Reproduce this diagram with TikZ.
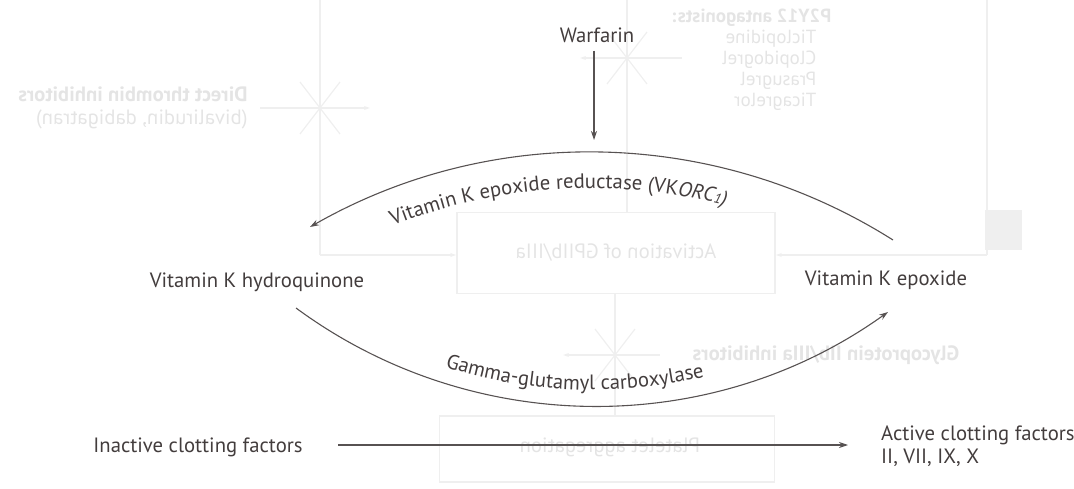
\documentclass[tikz,border=0pt]{standalone}
\usepackage{fontspec}
\setmainfont{PT Sans}
\usetikzlibrary{arrows.meta,decorations.text}
\definecolor{ink}{HTML}{433D3D}
\definecolor{wire}{HTML}{575252}
\definecolor{ghost}{HTML}{EFEFEF}
\definecolor{ghosttext}{HTML}{E4E4E4}
\newcommand\lblfont{\fontsize{20.7}{23}\selectfont}
\newcommand\subfont{\fontsize{14}{16}\selectfont}
\begin{document}
\begin{tikzpicture}[x=1pt,y=1pt,
  lbl/.style={text=ink, font=\lblfont, inner sep=0pt},
  flow/.style={draw=wire, line width=1.1pt, -{Stealth[length=9pt,width=6pt]}},
  ghostline/.style={draw=ghost, line width=1.2pt},
  ghostarrow/.style={ghostline, -{Stealth[length=6pt,width=4pt]}},
  ghostbox/.style={draw=ghost, line width=1.6pt, inner sep=0pt},
  ghostlbl/.style={text=ghosttext, font=\lblfont, xscale=-1, transform shape, inner sep=0pt}
]
\useasboundingbox (0,0) rectangle (1074,488);

% faint pathway printed on the reverse of the sheet (shows through mirrored)
\node[ghostbox, minimum width=318pt, minimum height=81pt] (gact) at (616,235) {};
\node[ghostlbl] (gacttxt) at (616,235) {Activation of GPIIb/IIIa};
\node[ghostbox, minimum width=335pt, minimum height=66pt] (gplt) at (607,39) {};
\node[ghostlbl] (gplttxt) at (610,41) {Platelet aggregation};
\coordinate (gtopl) at (320,488);
\coordinate (gcorner) at (320,233);
\draw[ghostline] (gtopl) -- (gcorner);
\draw[ghostarrow] (gcorner) -- (gact.west |- gcorner);
\coordinate (gtopr) at (987,488);
\coordinate (gcornerr) at (987,233);
\draw[ghostline] (gtopr) -- (gcornerr);
\draw[ghostarrow] (gcornerr) -- (gact.east |- gcornerr);
\fill[ghost] (985,238) rectangle (1022,278);
\coordinate (gtopm) at (627,488);
\draw[ghostline] (gtopm) -- (gact.north -| gtopm);
\draw[ghostline] (gact.south -| 615,0) -- (gplt.north -| 615,0);
% inhibition stars
\coordinate (gs1) at (320,380);
\coordinate (gs2) at (627,430);
\coordinate (gs3) at (615,133);
\draw[ghostarrow] ([xshift=-60pt]gs1) -- ([xshift=50pt]gs1);
\draw[ghostarrow] ([xshift=55pt]gs2) -- ([xshift=-47pt]gs2);
\draw[ghostarrow] ([xshift=45pt]gs3) -- ([xshift=-52pt]gs3);
\foreach \s in {gs1,gs2,gs3}{
  \draw[ghostline] ([shift={(-20pt,-26pt)}]\s) -- ([shift={(20pt,26pt)}]\s);
  \draw[ghostline] ([shift={(-20pt,26pt)}]\s) -- ([shift={(20pt,-26pt)}]\s);
}
\node[ghostlbl, align=left] (gdti) at (133,380)
  {\textbf{Direct thrombin inhibitors}\\(bivalirudin, dabigatran)};
\node[ghostlbl, align=left, font=\fontsize{19}{21}\selectfont] (gp2y) at (752,428)
  {\textbf{P2Y12 antagonists:}\\\hspace*{15pt}Ticlopidine\\\hspace*{15pt}Clopidogrel\\\hspace*{15pt}Prasugrel\\\hspace*{15pt}Ticagrelor};
\node[ghostlbl] (ggp) at (826,133) {\textbf{Glycoprotein IIb/IIIa inhibitors}};

% vitamin K cycle
\node[lbl] (warf) at (597,453) {Warfarin};
\node[lbl] (hydro) at (257,206) {Vitamin K hydroquinone};
\node[lbl] (epox) at (886,208) {Vitamin K epoxide};
\node[lbl] (inact) at (198,41) {Inactive clotting factors};
\node[lbl, anchor=west, align=left] (act) at (881,42) {Active clotting factors\\II, VII, IX, X};

\coordinate (wtip) at (594,348);
\draw[flow] (warf.south -| wtip) ++(0,-8) -- (wtip);

\coordinate (ta) at (893,248);
\coordinate (tb) at (310,261);
\draw[flow] (ta) to[bend right=31, looseness=0.92] (tb);

\coordinate (ba) at (296,180);
\coordinate (bb) at (888,176);
\draw[flow] (ba) to[bend right=36, looseness=0.94] (bb);

\coordinate (ia) at (338,43);
\coordinate (ib) at (848,43);
\draw[flow] (ia) -- (ib);

% enzyme names set along the two arcs
\path[decorate, decoration={text along path, text color=ink,
  text={|\lblfont|Vitamin K epoxide reductase (VK|\lblfont\itshape|ORC|\subfont\itshape|1|\lblfont\itshape|)}}]
  (590,-231) ++(111.8:531) arc[start angle=111.8, end angle=60, radius=531];
\path[decorate, decoration={text along path, text color=ink,
  text={|\lblfont|Gamma-glutamyl carboxylase}}]
  (592,581) ++(252.3:483) arc[start angle=252.3, end angle=300, radius=483];
\end{tikzpicture}
\end{document}
